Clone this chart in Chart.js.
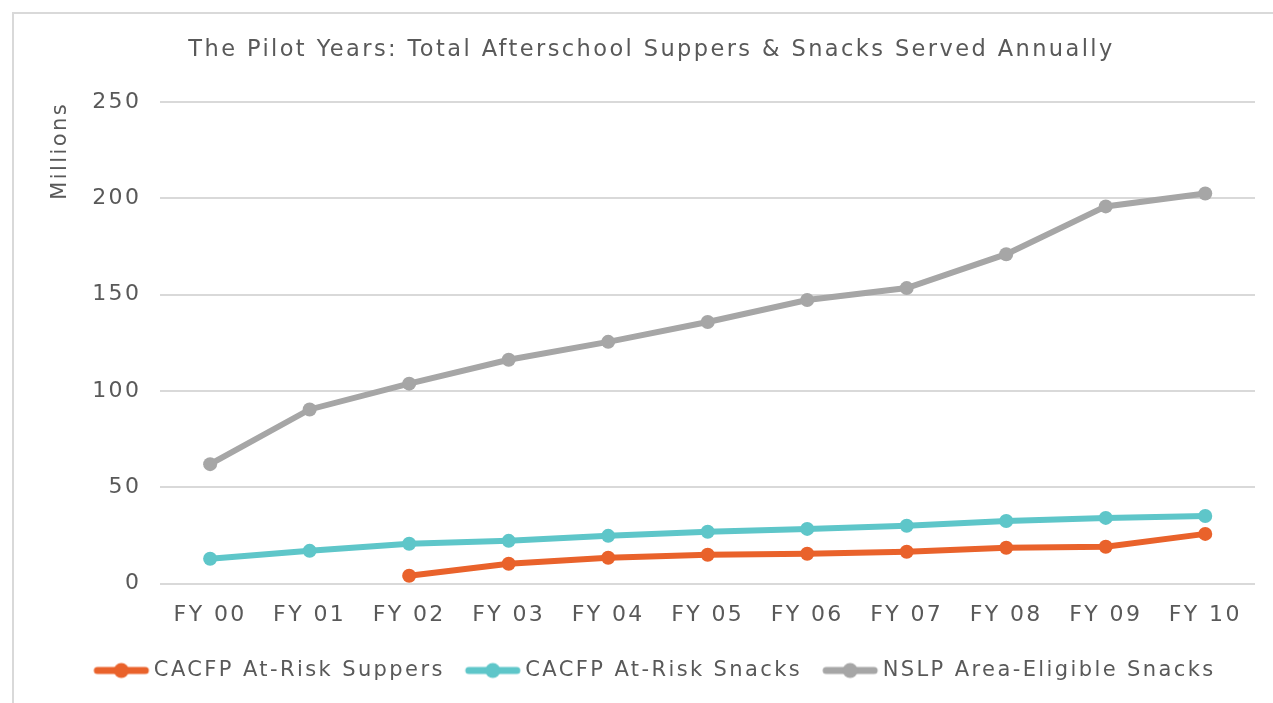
<!DOCTYPE html>
<html>
<head>
<meta charset="utf-8">
<script src="https://cdn.jsdelivr.net/npm/chart.js@4/dist/chart.umd.min.js"></script>
<style>
  html, body { margin: 0; padding: 0; background: #fff; }
  #frame { position: absolute; left: 12px; top: 12px; width: 1275px; height: 700px; border: 2px solid #d9d9d9; box-sizing: border-box; }
  #wrap { position: absolute; left: 0; top: 0; width: 1273px; height: 703px; }
</style>
</head>
<body>
<div id="frame"></div>
<div id="wrap"><canvas id="c" width="1273" height="703"></canvas></div>
<script>
const categories = ["FY 00","FY 01","FY 02","FY 03","FY 04","FY 05","FY 06","FY 07","FY 08","FY 09","FY 10"];
const suppers = [null, null, 4.1, 10.3, 13.4, 15.0, 15.5, 16.5, 18.6, 19.1, 25.8];
const snacks = [12.9, 17.0, 20.7, 22.2, 24.8, 26.9, 28.4, 30.0, 32.5, 34.1, 35.1];
const nslp = [62, 90.4, 103.8, 116.2, 125.5, 135.8, 147.2, 153.4, 171, 195.8, 202.5];
const yTicks = [0, 50, 100, 150, 200, 250];

const FONT = "'DejaVu Sans', sans-serif";
const TXT = '#595959';
const LS = '2.4px';

function marker(color) {
  const c = document.createElement('canvas');
  c.width = 80; c.height = 18;
  const g = c.getContext('2d');
  g.strokeStyle = color; g.lineWidth = 7; g.lineCap = 'round';
  g.beginPath(); g.moveTo(22, 9); g.lineTo(70, 9); g.stroke();
  g.fillStyle = color;
  g.beginPath(); g.arc(46, 9, 7.5, 0, Math.PI * 2); g.fill();
  return c;
}

const spacing = {
  id: 'spacing',
  beforeUpdate(chart) { chart.ctx.letterSpacing = LS; },
  beforeLayout(chart) { chart.ctx.letterSpacing = LS; },
  beforeDraw(chart) { chart.ctx.letterSpacing = LS; }
};

const colors = ['#E9622B', '#5EC6C9', '#A6A6A6'];
const names = ['CACFP At-Risk Suppers', 'CACFP At-Risk Snacks', 'NSLP Area-Eligible Snacks'];
const series = [suppers, snacks, nslp];

new Chart(document.getElementById('c'), {
  type: 'line',
  plugins: [spacing],
  data: {
    labels: categories,
    datasets: series.map((d, i) => ({
      label: names[i],
      data: d,
      borderColor: colors[i],
      backgroundColor: colors[i],
      borderWidth: 6,
      pointRadius: 7,
      pointHoverRadius: 7,
      pointBorderWidth: 0,
      tension: 0,
      spanGaps: false
    }))
  },
  options: {
    responsive: false,
    animation: false,
    layout: { padding: { left: 48, right: 18, top: 25, bottom: 12 } },
    plugins: {
      title: {
        display: true,
        text: 'The Pilot Years: Total Afterschool Suppers & Snacks Served Annually',
        color: TXT,
        font: { family: FONT, size: 22.5, weight: 'normal' },
        padding: { top: 12, bottom: 38 }
      },
      legend: {
        position: 'bottom',
        labels: {
          usePointStyle: true,
          pointStyleWidth: 56,
          color: TXT,
          font: { family: FONT, size: 21 },
          padding: 14,
          generateLabels: (chart) => chart.data.datasets.map((ds, i) => ({
            text: ds.label,
            fillStyle: colors[i],
            strokeStyle: colors[i],
            pointStyle: marker(colors[i]),
            datasetIndex: i,
            fontColor: TXT
          }))
        }
      },
      tooltip: { enabled: false }
    },
    scales: {
      x: {
        offset: true,
        grid: { display: false, drawTicks: false },
        border: { display: false },
        ticks: { color: TXT, font: { family: FONT, size: 22 }, padding: 18 }
      },
      y: {
        min: 0, max: 250,
        afterBuildTicks: (ax) => { ax.ticks = yTicks.map(v => ({ value: v })); },
        grid: { color: '#d9d9d9', lineWidth: 2, drawTicks: false },
        border: { display: false },
        ticks: { color: TXT, font: { family: FONT, size: 22 }, padding: 19 },
        title: {
          display: true,
          text: 'Millions',
          align: 'end',
          color: TXT,
          font: { family: FONT, size: 21 },
          padding: 0
        }
      }
    }
  }
});
</script>
</body>
</html>
